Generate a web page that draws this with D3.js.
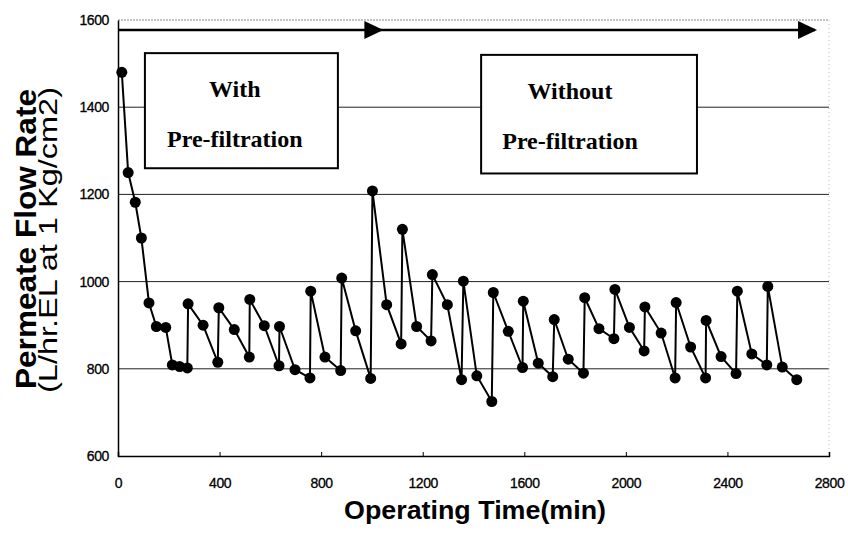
<!DOCTYPE html><html><head><meta charset="UTF-8"><script src="https://d3js.org/d3.v7.min.js"></script><style>
  body { margin: 0; background: #fff; }
  #chart { width: 848px; height: 538px; font-family: "Liberation Sans", Arial, sans-serif; }
  .tick text { font-size: 14px; font-family: "Liberation Sans", Arial, sans-serif; fill: #000; }
  .box text { font-family: "Liberation Serif", "Times New Roman", serif; font-weight: bold; font-size: 24px; }
</style></head><body><div id="chart"></div><script>
  // operating time (min) and permeate flow rate
  const time = [15, 40, 68, 92, 122, 151, 188, 214, 243, 273, 276, 335, 393, 397, 458, 517, 519, 576, 634, 636,
                697, 756, 759, 815, 877, 881, 936, 995, 1002, 1058, 1115, 1120, 1176, 1233, 1238, 1297, 1353, 1360, 1413, 1472,
                1478, 1537, 1593, 1596, 1655, 1712, 1718, 1773, 1833, 1838, 1894, 1953, 1957, 2014, 2072, 2075, 2139, 2194, 2198, 2255,
                2314, 2316, 2375, 2434, 2439, 2496, 2555, 2559, 2616, 2673];
  const flow = [1480, 1250, 1182, 1100, 951, 897, 895, 809, 805, 802, 949, 900, 815, 940, 890, 827, 959, 899, 807, 897,
                798, 779, 978, 827, 796, 1008, 887, 778, 1208, 947, 857, 1120, 897, 864, 1016, 947, 775, 1001, 784, 725,
                975, 886, 803, 955, 813, 782, 913, 822, 790, 963, 892, 869, 982, 895, 841, 942, 882, 779, 952, 850,
                779, 911, 828, 789, 978, 834, 809, 989, 804, 775];
  const xTicks = [0, 400, 800, 1200, 1600, 2000, 2400, 2800];
  const yTicks = [600, 800, 1000, 1200, 1400, 1600];
  const gridValues = [800, 1000, 1200, 1400];
  const phaseLabels = [["With", "Pre-filtration"], ["Without", "Pre-filtration"]];

  const margin = {top: 20, right: 19, bottom: 82, left: 118};
  const fullWidth = 848, fullHeight = 538;
  const width = fullWidth - margin.left - margin.right;
  const height = fullHeight - margin.top - margin.bottom;

  const svg = d3.select('#chart').append('svg')
      .attr('width', fullWidth).attr('height', fullHeight)
    .append('g')
      .attr('transform', `translate(${margin.left},${margin.top})`);

  const x = d3.scaleLinear().domain([0, 2800]).range([0, width]);
  const y = d3.scaleLinear().domain([600, 1600]).range([height, 0]);

  // grid
  svg.append('g').selectAll('line').data(gridValues).enter().append('line')
      .attr('x1', 0).attr('x2', width)
      .attr('y1', d => y(d)).attr('y2', d => y(d))
      .attr('stroke', '#222').attr('stroke-width', 1);

  // dotted top and right frame
  svg.append('line').attr('x1', 0).attr('x2', width).attr('y1', y(1600)).attr('y2', y(1600))
      .attr('stroke', '#888').attr('stroke-dasharray', '2,1');
  svg.append('line').attr('x1', width).attr('x2', width).attr('y1', 0).attr('y2', height)
      .attr('stroke', '#bbb').attr('stroke-dasharray', '1,3');

  // axes
  const xAxis = svg.append('g').attr('transform', `translate(0,${height})`)
      .call(d3.axisBottom(x).tickValues(xTicks).tickSize(-4).tickPadding(22).tickFormat(d3.format('d')));
  xAxis.select('.domain').attr('stroke', '#000').attr('stroke-width', 1.5);
  xAxis.selectAll('.tick line').attr('stroke', '#000');

  const yAxis = svg.append('g')
      .call(d3.axisLeft(y).tickValues(yTicks).tickSize(0).tickPadding(9).tickFormat(d3.format('d')));
  yAxis.select('.domain').attr('stroke', '#000').attr('stroke-width', 1.5);
  svg.selectAll('.tick text').attr('letter-spacing', '-0.4px').attr('stroke', '#000').attr('stroke-width', 0.3);

  // phase boxes
  const boxes = [
    {x0: 106, x1: 866, y0: 1524, y1: 1260, tx: 460},
    {x0: 1430, x1: 2280, y0: 1520, y1: 1248, tx: 1780}
  ];
  const box = svg.append('g').attr('class', 'box').selectAll('g').data(boxes).enter().append('g');
  box.append('rect')
      .attr('x', d => x(d.x0)).attr('y', d => y(d.y0))
      .attr('width', d => x(d.x1) - x(d.x0)).attr('height', d => y(d.y1) - y(d.y0))
      .attr('fill', '#fff').attr('stroke', '#000').attr('stroke-width', 2);
  box.append('text')
      .attr('x', d => x(d.tx)).attr('y', d => y(d.y0) + 44)
      .attr('text-anchor', 'middle').text((d, i) => phaseLabels[i][0]);
  box.append('text')
      .attr('x', d => x(d.tx)).attr('y', d => y(d.y0) + 94)
      .attr('text-anchor', 'middle').text((d, i) => phaseLabels[i][1]);

  // timeline arrow
  const arrowY = y(1577);
  svg.append('line').attr('x1', x(0)).attr('x2', x(2745)).attr('y1', arrowY).attr('y2', arrowY)
      .attr('stroke', '#000').attr('stroke-width', 2.5);
  const arrowTips = [1045, 2753];
  svg.append('g').selectAll('path').data(arrowTips).enter().append('path')
      .attr('d', d => `M${x(d)},${arrowY} L${x(d) - 19},${arrowY - 9} L${x(d) - 19},${arrowY + 9} Z`)
      .attr('fill', '#000');

  // series
  const pts = time.map((t, i) => [t, flow[i]]);
  svg.append('path').datum(pts)
      .attr('fill', 'none').attr('stroke', '#000').attr('stroke-width', 2)
      .attr('d', d3.line().x(d => x(d[0])).y(d => y(d[1])));
  svg.append('g').selectAll('circle').data(pts).enter().append('circle')
      .attr('cx', d => x(d[0])).attr('cy', d => y(d[1])).attr('r', 5.5).attr('fill', '#000');

  // axis titles
  svg.append('text')
      .attr('x', 357).attr('y', height + 63)
      .attr('text-anchor', 'middle')
      .attr('font-size', '26px').attr('font-weight', 'bold')
      .attr('textLength', 262).attr('lengthAdjust', 'spacingAndGlyphs')
      .text('Operating Time(min)');

  svg.append('text')
      .attr('transform', `translate(${36 - margin.left},${239 - margin.top}) rotate(-90)`)
      .attr('text-anchor', 'middle')
      .attr('font-size', '29px').attr('font-weight', 'bold')
      .attr('textLength', 300).attr('lengthAdjust', 'spacingAndGlyphs')
      .text('Permeate Flow Rate');

  svg.append('text')
      .attr('transform', `translate(${57 - margin.left},${240 - margin.top}) rotate(-90)`)
      .attr('text-anchor', 'middle')
      .attr('font-size', '25px')
      .attr('textLength', 306).attr('lengthAdjust', 'spacingAndGlyphs')
      .text('(L/hr.EL at 1 Kg/cm2)');
</script></body></html>
